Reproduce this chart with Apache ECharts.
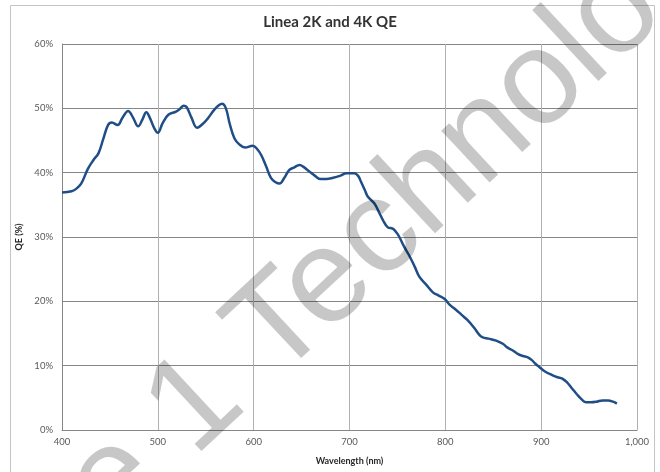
<!DOCTYPE html>
<html>
<head>
<meta charset="utf-8">
<script src="https://cdn.jsdelivr.net/npm/echarts@6/dist/echarts.min.js"></script>
<style>
  html, body { margin: 0; padding: 0; background: #fff; }
  #chart { width: 660px; height: 472px; }
</style>
</head>
<body>
<div id="chart"></div>
<script>
// wavelength (nm) and QE (%)
const wavelength = [400, 410, 414, 420, 427, 433, 438, 443, 448, 452, 458, 463, 469, 474, 479.5, 484, 488, 492, 496, 500,
  505, 511, 519, 523, 527, 530, 535, 541, 547, 552, 559, 564, 567, 571, 575, 580, 585, 591, 599, 604,
  608, 613, 618, 623, 627, 632, 637, 642, 648, 652, 658, 664, 670, 676, 683, 690, 697, 705, 709, 712,
  716, 719, 726, 731, 735, 740, 745, 749, 752, 757, 762, 768, 773, 780, 787, 793, 799, 805, 811, 817,
  823, 830, 836, 839, 845, 853, 860, 865, 870, 876, 881, 886, 890, 894, 898, 904, 912, 917, 922, 927,
  932, 937, 942, 947, 952, 958, 964, 970, 975, 979];
const qe = [36.9, 37.1, 37.4, 38.3, 40.6, 42.0, 43.0, 45.2, 47.4, 47.8, 47.4, 48.5, 49.6, 48.6, 47.2, 48.3, 49.4, 48.4, 47.0, 46.2,
  47.7, 49.0, 49.5, 49.9, 50.4, 50.2, 48.6, 47.0, 47.6, 48.4, 49.8, 50.5, 50.7, 50.0, 47.6, 45.3, 44.4, 43.9, 44.2, 43.6,
  42.7, 41.0, 39.2, 38.5, 38.3, 39.2, 40.4, 40.8, 41.2, 40.9, 40.2, 39.5, 39.0, 39.0, 39.2, 39.5, 39.9, 39.9, 39.5, 38.6,
  37.3, 36.3, 35.2, 33.8, 32.6, 31.5, 31.3, 30.7, 30.0, 28.5, 27.2, 25.4, 23.8, 22.6, 21.4, 20.9, 20.4, 19.4, 18.7, 17.9,
  17.1, 15.9, 14.7, 14.4, 14.2, 13.9, 13.4, 12.8, 12.4, 11.8, 11.5, 11.3, 10.9, 10.3, 9.8, 9.1, 8.5, 8.2, 8.0, 7.4,
  6.5, 5.6, 4.8, 4.3, 4.3, 4.4, 4.6, 4.6, 4.4, 4.1];

const labelFont = 'Lato, "Liberation Sans", sans-serif';

const chart = echarts.init(document.getElementById('chart'));

chart.setOption({
  animation: false,
  backgroundColor: '#fff',
  title: {
    text: 'Linea 2K and 4K QE',
    left: 'center',
    top: 10,
    textStyle: { fontFamily: labelFont, fontSize: 15, fontWeight: 'bold', color: '#333' }
  },
  grid: { left: 62, right: 23, top: 44, bottom: 42 },
  xAxis: {
    type: 'value',
    min: 400,
    max: 1000,
    interval: 100,
    name: 'Wavelength (nm)',
    nameLocation: 'middle',
    nameGap: 27,
    nameTextStyle: { fontFamily: labelFont, fontSize: 9, fontWeight: 'bold', color: '#262626' },
    axisLine: { lineStyle: { color: '#868686', width: 1 } },
    axisTick: { show: false },
    axisLabel: { fontFamily: labelFont, fontSize: 9.5, color: '#595959', margin: 7 },
    splitLine: { show: true, lineStyle: { color: '#b0b0b0', width: 1 } }
  },
  yAxis: {
    type: 'value',
    min: 0,
    max: 60,
    interval: 10,
    name: 'QE (%)',
    nameLocation: 'middle',
    nameGap: 32,
    nameTextStyle: { fontFamily: labelFont, fontSize: 9, fontWeight: 'bold', color: '#262626' },
    axisLine: { show: true, lineStyle: { color: '#868686', width: 1 } },
    axisTick: { show: false },
    axisLabel: { fontFamily: labelFont, fontSize: 9.5, color: '#595959', margin: 9, formatter: '{value}%' },
    splitLine: { show: true, lineStyle: { color: '#868686', width: 1 } }
  },
  series: [{
    type: 'line',
    data: wavelength.map((w, i) => [w, qe[i]]),
    smooth: 0.4,
    showSymbol: false,
    lineStyle: { color: '#1f4e86', width: 2.5 },
    z: 3
  }],
  graphic: [
    {
      type: 'rect',
      shape: { x: 10.5, y: 5.5, width: 644, height: 480 },
      style: { fill: null, stroke: '#c4c4c4', lineWidth: 1 },
      silent: true,
      z: 1
    },
    {
      // watermark
      type: 'text',
      x: 305,
      y: 304,
      rotation: 43 * Math.PI / 180,
      silent: true,
      z: 100,
      style: {
        text: 'Phase 1 Technology',
        font: '134px "Liberation Sans", Arial, sans-serif',
        fill: 'rgba(0,0,0,0.22)',
        align: 'center',
        verticalAlign: 'middle',
        textAlign: 'center',
        textVerticalAlign: 'middle'
      }
    }
  ]
});
</script>
</body>
</html>
